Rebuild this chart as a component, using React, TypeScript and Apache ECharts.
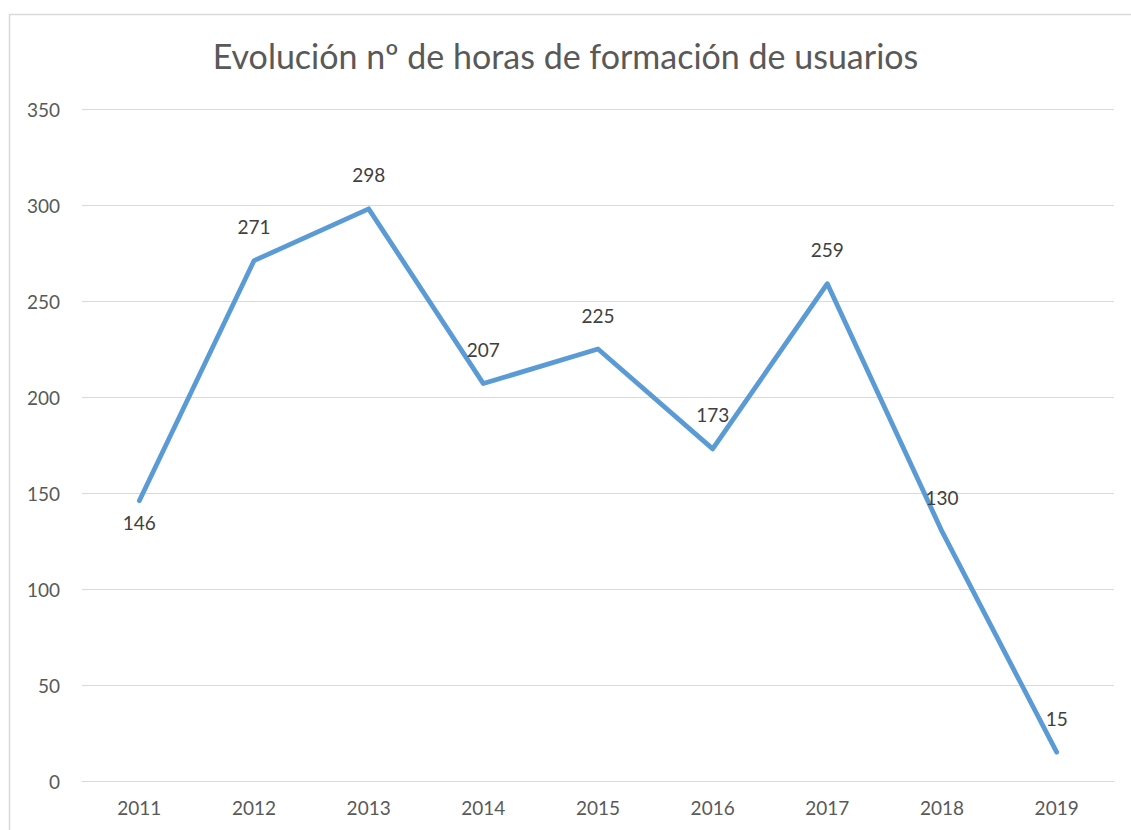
import React, { useEffect, useRef } from "react";
import * as echarts from "echarts";

const years = ["2011", "2012", "2013", "2014", "2015", "2016", "2017", "2018", "2019"];
const hours = [146, 271, 298, 207, 225, 173, 259, 130, 15];
const labelPositions = ["bottom", "top", "top", "top", "top", "top", "top", "top", "top"];
const titleText = "Evolución nº de horas de formación de usuarios";

export default function App() {
  const ref = useRef<HTMLDivElement>(null);
  useEffect(() => {
    if (!ref.current) return;
    const chart = echarts.init(ref.current, null, { renderer: "svg" });
    const font = "Lato, 'Open Sans', sans-serif";
    chart.setOption({
      animation: false,
      backgroundColor: "#ffffff",
      textStyle: { fontFamily: font },
      title: {
        text: titleText,
        left: "center",
        top: 33,
        textStyle: { fontSize: 34, fontWeight: "normal", color: "#595959", fontFamily: font },
      },
      graphic: [
        {
          type: "rect",
          left: 7,
          top: 12,
          shape: { x: 0, y: 0, width: 1200, height: 900 },
          style: { fill: "none", stroke: "#d9d9d9", lineWidth: 1.5 },
          silent: true,
        },
      ],
      grid: { left: 82, right: 17, top: 109, bottom: 49, containLabel: false },
      xAxis: {
        type: "category",
        data: years,
        boundaryGap: true,
        axisLine: { lineStyle: { color: "#d9d9d9", width: 1 } },
        axisTick: { show: false },
        axisLabel: { color: "#595959", fontSize: 19, margin: 17, fontFamily: font },
      },
      yAxis: {
        type: "value",
        min: 0,
        max: 350,
        interval: 50,
        axisLine: { show: false },
        axisTick: { show: false },
        splitLine: { lineStyle: { color: "#d9d9d9", width: 1 } },
        axisLabel: { color: "#595959", fontSize: 19, margin: 22, fontFamily: font },
      },
      series: [
        {
          type: "line",
          data: hours.map((v, i) => ({
            value: v,
            label: { position: labelPositions[i], distance: labelPositions[i] === "bottom" ? 12 : 24 },
          })),
          showSymbol: true,
          symbol: "circle",
          symbolSize: 1,
          lineStyle: { color: "#5B9BD5", width: 4.8, cap: "round", join: "round" },
          itemStyle: { color: "rgba(91,155,213,0)", borderWidth: 0 },
          label: { show: true, color: "#404040", fontSize: 19, fontFamily: font, opacity: 1 },
        },
      ],
    });
    return () => chart.dispose();
  }, []);
  return (
    <div
      ref={ref}
      style={{ position: "fixed", left: 0, top: 0, width: 1131, height: 830 }}
    />
  );
}
